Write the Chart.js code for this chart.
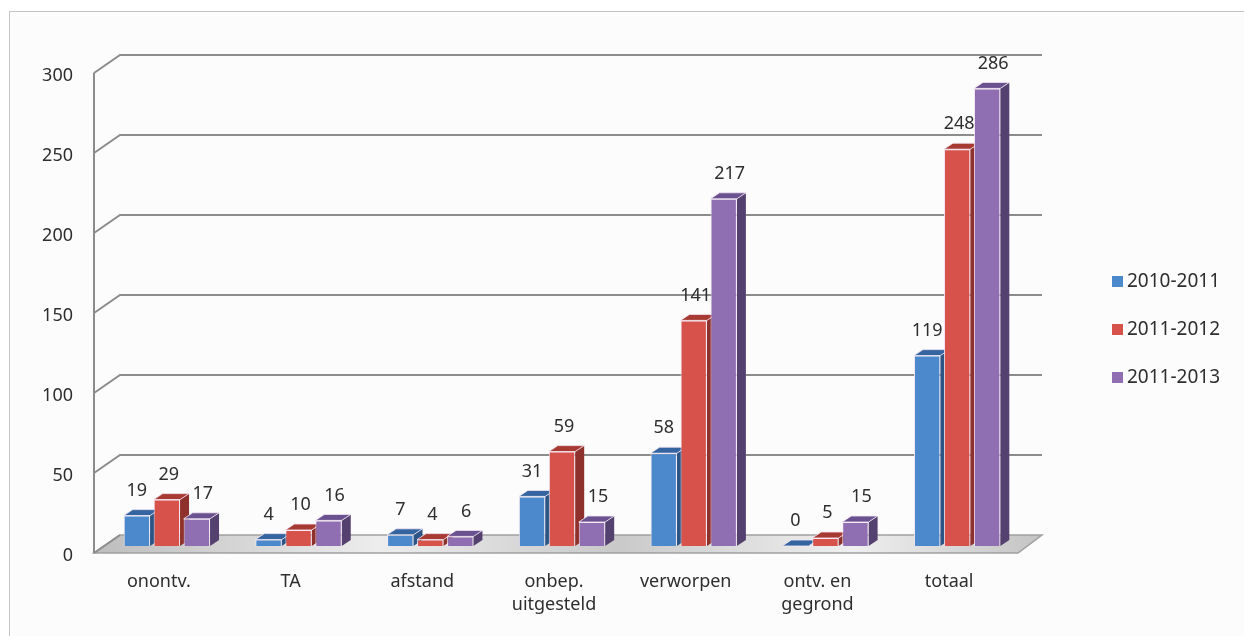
<!DOCTYPE html>
<html>
<head>
<meta charset="utf-8">
<script src="https://cdn.jsdelivr.net/npm/chart.js@4"></script>
<style>
  html, body { margin: 0; padding: 0; background: #ffffff; }
  canvas { display: block; }
</style>
</head>
<body>
<canvas id="chart" width="1244" height="636"></canvas>
<script>
// Data
const categories = ['onontv.', 'TA', 'afstand', ['onbep.', 'uitgesteld'], 'verworpen', ['ontv. en', 'gegrond'], 'totaal'];
const seriesNames = ['2010-2011', '2011-2012', '2011-2013'];
const values2010 = [19, 4, 7, 31, 58, 0, 119];
const values2011 = [29, 10, 4, 59, 141, 5, 248];
const values2013 = [17, 16, 6, 15, 217, 15, 286];
const yTicks = [0, 50, 100, 150, 200, 250, 300];

// front / top / side colours of the 3d columns
const fronts = ['#4b89cc', '#d6524a', '#8f6fb2'];
const tops = ['#3565a0', '#a83a34', '#6a5290'];
const sides = ['#2c5585', '#8e302b', '#55416f'];
const labelShift = [0, 2, 6];

const FONT = '"Noto Sans", "Open Sans", sans-serif';
const TEXT = '#2e2e2e';
const DX = 9, DY = 6;   // bar depth

// walls, floor, grid and the side/top faces of the bars
const wallsPlugin = {
  id: 'walls',
  beforeDraw(chart) {
    const ctx = chart.ctx;
    ctx.save();
    ctx.fillStyle = '#fcfcfc';
    ctx.fillRect(9, 11, 1235, 625);
    ctx.strokeStyle = '#c4c4c4';
    ctx.lineWidth = 1;
    ctx.strokeRect(9.5, 11.5, 1250, 700);
    ctx.restore();
  },
  beforeDatasetsDraw(chart) {
    const ctx = chart.ctx;
    const area = chart.chartArea;
    const y = chart.scales.y;
    const fx = area.left - 7, bx = area.left + 19, bxr = area.right + 19, fxr = area.right - 5;
    ctx.save();

    // floor
    const y0 = y.getPixelForValue(0);
    const g = ctx.createLinearGradient(fx, 0, bxr, 0);
    g.addColorStop(0, '#bdbdbd');
    g.addColorStop(0.3, '#ededed');
    g.addColorStop(0.55, '#c9c9c9');
    g.addColorStop(0.8, '#efefef');
    g.addColorStop(1, '#c4c4c4');
    ctx.fillStyle = g;
    ctx.beginPath();
    ctx.moveTo(fx, y0 + 7);
    ctx.lineTo(fxr, y0 + 7);
    ctx.lineTo(bxr, y0 - 11);
    ctx.lineTo(bx, y0 - 11);
    ctx.closePath();
    ctx.fill();
    ctx.strokeStyle = '#a0a0a0';
    ctx.lineWidth = 1.5;
    ctx.stroke();

    // grid lines on back wall + left wall edge
    ctx.strokeStyle = '#8c8c8c';
    ctx.lineWidth = 2;
    yTicks.forEach(v => {
      const py = y.getPixelForValue(v);
      ctx.beginPath();
      ctx.moveTo(fx, py + 7);
      ctx.lineTo(bx, py - 11);
      if (v > 0) ctx.lineTo(bxr, py - 11);
      ctx.stroke();
    });
    ctx.beginPath();
    ctx.moveTo(fx, y.getPixelForValue(0) + 7);
    ctx.lineTo(fx, y.getPixelForValue(300) + 7);
    ctx.stroke();

    // side and top faces, left to right inside each group
    for (let i = 0; i < categories.length; i++) {
      chart.data.datasets.forEach((ds, d) => {
        const bar = chart.getDatasetMeta(d).data[i];
        const l = bar.x - bar.width / 2, r = bar.x + bar.width / 2;
        const t = bar.y, b = bar.base;
        ctx.fillStyle = sides[d];
        ctx.beginPath();
        ctx.moveTo(r, t);
        ctx.lineTo(r + DX, t - DY);
        ctx.lineTo(r + DX, b - DY);
        ctx.lineTo(r, b);
        ctx.closePath();
        ctx.fill();
        ctx.fillStyle = tops[d];
        ctx.beginPath();
        ctx.moveTo(l, t);
        ctx.lineTo(r, t);
        ctx.lineTo(r + DX, t - DY);
        ctx.lineTo(l + DX, t - DY);
        ctx.closePath();
        ctx.fill();
        ctx.strokeStyle = 'rgba(245,232,245,0.8)';
        ctx.lineWidth = 1;
        ctx.stroke();
      });
    }
    ctx.restore();
  },
  afterDatasetsDraw(chart) {
    const ctx = chart.ctx;
    ctx.save();
    ctx.font = '18px ' + FONT;
    ctx.fillStyle = TEXT;
    ctx.textAlign = 'center';
    ctx.textBaseline = 'middle';
    chart.data.datasets.forEach((ds, d) => {
      chart.getDatasetMeta(d).data.forEach((bar, i) => {
        ctx.fillText(String(ds.data[i]), bar.x + labelShift[d], bar.y - 25);
      });
    });

    // legend
    ctx.font = '19px ' + FONT;
    ctx.textAlign = 'left';
    const ly = [281, 329, 377];
    chart.data.datasets.forEach((ds, d) => {
      ctx.fillStyle = ds.backgroundColor;
      ctx.fillRect(1112, ly[d] - 5, 11, 11);
      ctx.fillStyle = TEXT;
      ctx.fillText(ds.label, 1127, ly[d] + 1);
    });
    ctx.restore();
  }
};

const seriesValues = [values2010, values2011, values2013];

new Chart(document.getElementById('chart'), {
  type: 'bar',
  data: {
    labels: categories,
    datasets: seriesNames.map((name, d) => ({
      label: name,
      data: seriesValues[d],
      backgroundColor: fronts[d],
      borderColor: 'rgba(246,234,246,0.9)',
      borderWidth: 1,
      categoryPercentage: 0.683,
      barPercentage: 0.88
    }))
  },
  options: {
    responsive: false,
    devicePixelRatio: 1,
    animation: false,
    layout: { padding: { top: 66, right: 221, bottom: 0, left: 0 } },
    scales: {
      x: {
        grid: { display: false, drawTicks: false },
        border: { display: false },
        afterFit(scale) { scale.height = 90; },
        ticks: {
          padding: 25,
          labelOffset: -8,
          color: TEXT,
          font: { family: FONT, size: 18, lineHeight: 1.25 },
          maxRotation: 0,
          autoSkip: false
        }
      },
      y: {
        min: 0,
        max: 300,
        grid: { display: false, drawTicks: false },
        border: { display: false },
        afterFit(scale) { scale.width = 101; },
        afterBuildTicks(scale) { scale.ticks = yTicks.map(v => ({ value: v })); },
        ticks: {
          padding: 28,
          labelOffset: 10,
          color: TEXT,
          font: { family: FONT, size: 18 }
        }
      }
    },
    plugins: {
      legend: { display: false },
      tooltip: { enabled: false }
    }
  },
  plugins: [wallsPlugin]
});
</script>
</body>
</html>
